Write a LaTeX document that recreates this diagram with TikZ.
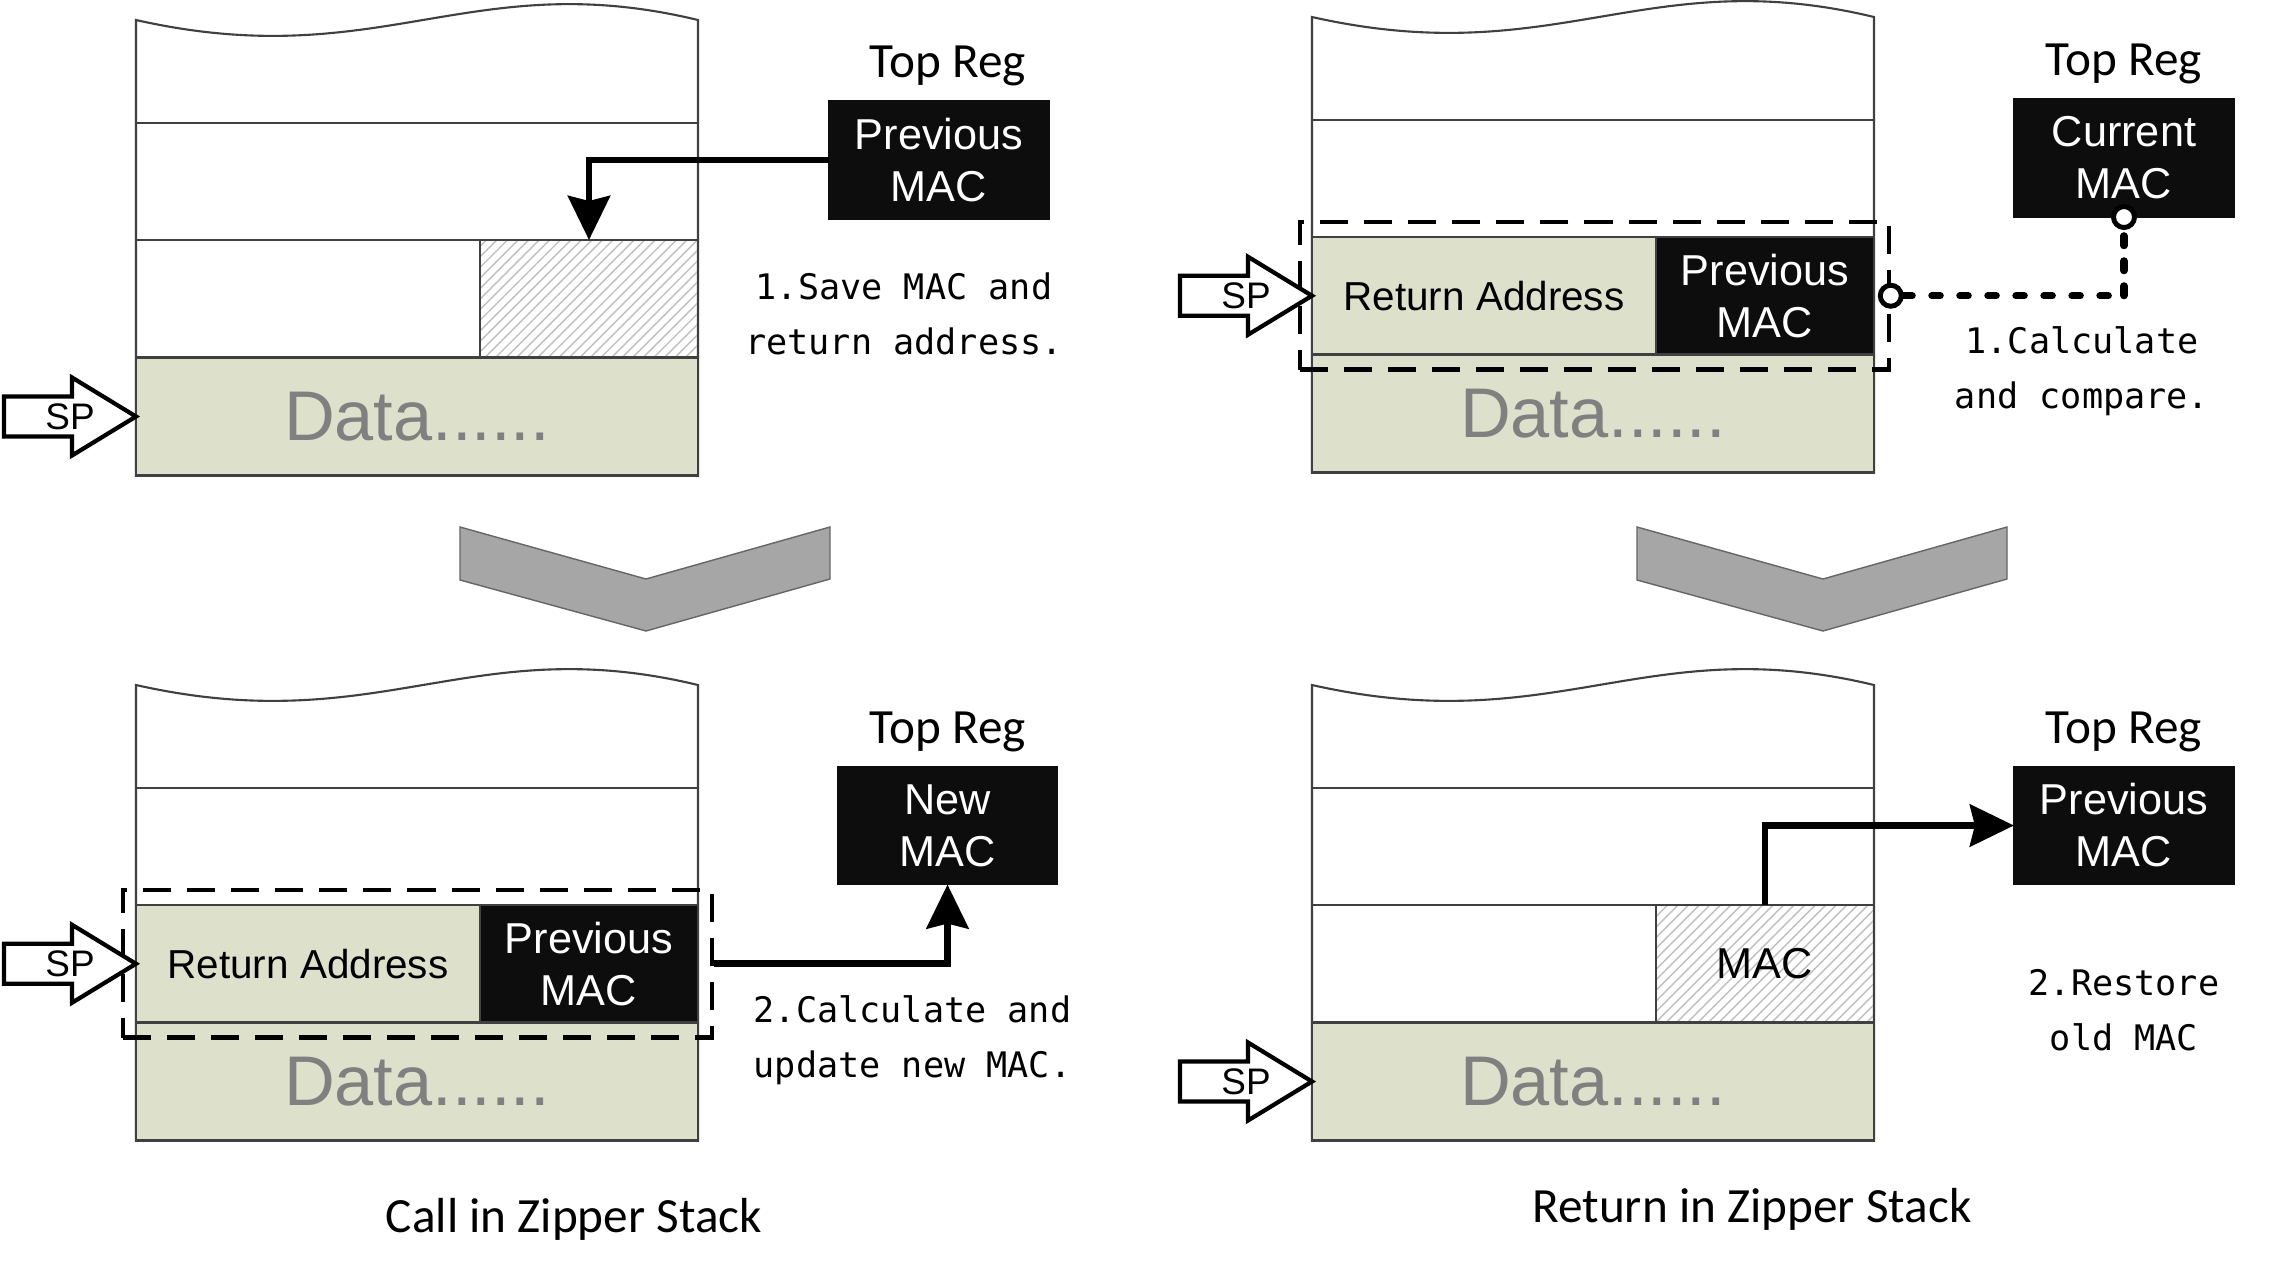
\documentclass[tikz,border=0pt]{standalone}
\usepackage{fontspec}
\setmainfont{Liberation Sans}
\newfontfamily\carlito{Carlito}
\newfontfamily\dejamono{DejaVu Sans Mono}
\usetikzlibrary{arrows.meta, patterns}

\definecolor{datagreen}{RGB}{221,225,204}
\definecolor{datatext}{RGB}{128,128,128}
\definecolor{regblack}{RGB}{13,13,13}
\definecolor{chevgray}{RGB}{166,166,166}

\begin{document}
\begin{tikzpicture}[x=0.01cm, y=-0.01cm,
  stackline/.style={draw=black!75, line width=0.6pt},
  cell/.style={rectangle, draw=black!75, line width=0.6pt, inner sep=0pt, outer sep=0pt, minimum height=1.175cm},
  racell/.style={cell, fill=datagreen, minimum width=3.44cm, font=\fontsize{11.5}{14}\selectfont},
  maccell/.style={cell, fill=regblack, text=white, align=center, minimum width=2.18cm, font=\fontsize{12.3}{14.8}\selectfont},
  hatchcell/.style={cell, pattern=north east lines, pattern color=black!25, minimum width=2.18cm, font=\fontsize{12.3}{14.8}\selectfont},
  datacell/.style={cell, fill=datagreen, minimum width=5.62cm, minimum height=1.18cm, text=datatext, font=\fontsize{20}{24}\selectfont},
  regbox/.style={rectangle, fill=regblack, draw=regblack, text=white, align=center, inner sep=0pt, outer sep=0pt, minimum width=2.2cm, minimum height=1.18cm, font=\fontsize{12.3}{14.8}\selectfont},
  toplabel/.style={inner sep=0pt, font=\carlito\fontsize{14}{17}\selectfont},
  note/.style={inner sep=0pt, align=center, font=\dejamono\fontsize{10}{15.5}\selectfont},
  dashbox/.style={rectangle, draw, line width=1.2pt, dash pattern=on 0.28cm off 0.16cm, minimum width=5.885cm, minimum height=1.475cm, inner sep=0pt},
  flow/.style={line width=1.9pt, -{Stealth[length=0.44cm, width=0.42cm, inset=0.05cm]}},
  ring/.style={circle, draw, fill=white, line width=1.4pt, minimum size=0.21cm, inner sep=0pt},
  sparrow/.style={draw, fill=white, line width=1.2pt},
  chevron/.style={fill=chevgray, draw=black!60, line width=0.4pt}]

\fill[white] (0,0) rectangle (2271,1275);
\useasboundingbox (0,0) rectangle (2271,1275);

% Stack outlines with the wavy top
\foreach \sx/\sy in {136/20, 1312/17, 136/685, 1312/685} {
  \draw[stackline] (\sx,\sy) .. controls (\sx+244,\sy+55) and (\sx+334,\sy-55) .. (\sx+562,\sy)
    -- (\sx+562,\sy+455.5) -- (\sx,\sy+455.5) -- cycle;
  \foreach \r in {103, 220, 337.5} \draw[stackline] (\sx,\sy+\r) -- (\sx+562,\sy+\r);
}

% Call: save MAC and return address
\node[hatchcell] (hatchTL) at (589,298.75) {};
\node[datacell] (dataTL) at (417,416.5) {Data......};
\node[regbox] (regTL) at (939,160) {Previous\\MAC};
\node[toplabel] (topTL) at (948,66) {Top Reg};
\node[note] (stepTL) at (904,314) {1.Save MAC and\\return address.};
\draw[flow] (regTL.west) -| (hatchTL.north);

% Return: calculate and compare
\node[racell] (raTR) at (1484,295.75) {Return Address};
\node[maccell] (macTR) at (1765,295.75) {Previous\\MAC};
\node[datacell] (dataTR) at (1593,413.5) {Data......};
\node[dashbox] (dashTR) at (1594.25,295.75) {};
\node[regbox] (regTR) at (2124,158) {Current\\MAC};
\node[toplabel] (topTR) at (2124,64) {Top Reg};
\node[note] (stepTR) at (2082,371) {1.Calculate\\and compare.};
\node[ring] (ringA) at (regTR.south) {};
\node[ring] (ringB) at (dashTR.east) {};
\draw[line width=2pt, line cap=round, dash pattern=on 0.085cm off 0.195cm] (ringB) -- (ringB -| ringA);
\draw[line width=2pt, line cap=round, dash pattern=on 0.1cm off 0.15cm] (ringB -| ringA) -- (ringA);

% Call: calculate and update new MAC
\node[racell] (raBL) at (308,963.75) {Return Address};
\node[maccell] (macBL) at (589,963.75) {Previous\\MAC};
\node[datacell] (dataBL) at (417,1081.5) {Data......};
\node[dashbox] (dashBL) at (417.25,963.75) {};
\node[regbox] (newBL) at (947.5,825.5) {New\\MAC};
\node[toplabel] (topBL) at (948,732) {Top Reg};
\node[note, align=left, anchor=west] (stepBL) at (753,1040) {2.Calculate and\\update new MAC.};
\draw[flow] (dashBL.east) -| (newBL.south);

% Return: restore old MAC
\node[hatchcell] (hatchBR) at (1765,963.75) {MAC};
\node[datacell] (dataBR) at (1593,1081.5) {Data......};
\node[regbox] (prevBR) at (2124,825.5) {Previous\\MAC};
\node[toplabel] (topBR) at (2124,732) {Top Reg};
\node[note] (stepBR) at (2124,1010) {2.Restore\\old MAC};
\draw[flow] (hatchBR.north) |- (prevBR.west);

% Stack pointers
\foreach \tx/\ty/\nm in {136/416.5/spTL, 1312/295.75/spTR, 136/963.75/spBL, 1312/1081.5/spBR} {
  \draw[sparrow] (\tx,\ty) -- (\tx-64,\ty-39) -- (\tx-64,\ty-20) -- (\tx-132,\ty-20)
    -- (\tx-132,\ty+20) -- (\tx-64,\ty+20) -- (\tx-64,\ty+39) -- cycle;
  \node[inner sep=0pt, font=\fontsize{10.5}{12}\selectfont] (\nm) at (\tx-66,\ty) {SP};
}

% Step chevrons
\foreach \cx in {0,1177}
  \draw[chevron] (\cx+460,527) -- (\cx+646,579) -- (\cx+830,527) -- (\cx+830,579)
    -- (\cx+646,631) -- (\cx+460,580) -- cycle;

% Captions
\node[toplabel] (capL) at (574,1219) {Call in Zipper Stack};
\node[toplabel] (capR) at (1752,1209) {Return in Zipper Stack};
\end{tikzpicture}
\end{document}
